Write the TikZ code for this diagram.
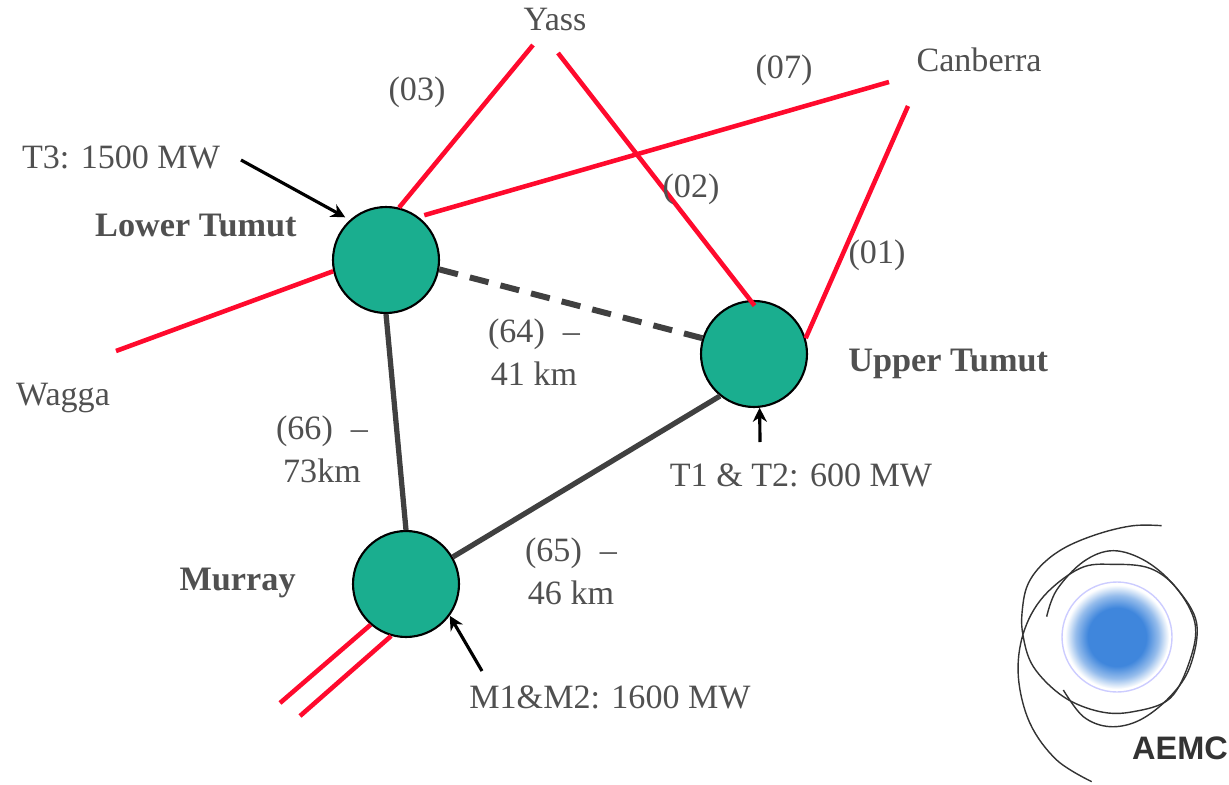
\documentclass[tikz,border=0pt]{standalone}
\usepackage{fontspec}
\setmainfont{Liberation Serif}
\setsansfont{Liberation Sans}
\usepackage{xcolor}
\usetikzlibrary{arrows.meta,positioning}

\definecolor{stationgreen}{HTML}{1AAE8F}
\definecolor{linered}{HTML}{FF0A2D}
\definecolor{linegrey}{HTML}{404040}
\definecolor{textgrey}{HTML}{505050}
\definecolor{logoblue}{HTML}{3F86DC}
\pgfdeclareradialshading{logoblob}{\pgfpoint{0bp}{0bp}}{color(0bp)=(logoblue); color(14bp)=(logoblue); color(20bp)=(logoblue!55!white); color(25bp)=(white); color(50bp)=(white)}

\begin{document}
\begin{tikzpicture}[
    x=0.02cm, y=-0.02cm,
    station/.style={draw=black, line width=1.2pt, circle, fill=stationgreen, minimum size=2.12cm, inner sep=0pt},
    lbl/.style={text=textgrey, inner sep=0pt, align=center, font=\fontsize{19.4}{24.6}\selectfont},
    stationlbl/.style={lbl, font=\fontsize{19.5}{24}\selectfont\bfseries},
    feeder/.style={draw=linered, line width=2.6pt},
    tie/.style={draw=linegrey, line width=3pt},
    pointer/.style={draw=black, line width=1.8pt, -{Stealth[length=8pt,width=8pt]}},
    logoline/.style={draw=black!80, line width=0.8pt}
]
    \useasboundingbox (0,0) rectangle (1229,784);

    % Stations
    \node[station] (lower) at (386,260) {};
    \node[station] (upper) at (754,354) {};
    \node[station] (murray) at (406,584) {};

    % Free line ends
    \coordinate (yassa) at (533,45);
    \coordinate (yassb) at (558,53);
    \coordinate (canberraa) at (889,82);
    \coordinate (canberrab) at (908,106);
    \coordinate (waggaend) at (116,351);
    \coordinate (southa) at (280,703);
    \coordinate (southb) at (300,716);
    \coordinate (t3start) at (241,160);
    \coordinate (t1start) at (760,442);
    \coordinate (m1start) at (482,671);

    % Red lines
    \draw[feeder] (lower.76) -- (yassa);
    \draw[feeder, shorten <=3.4pt] (lower.53) -- (canberraa);
    \draw[feeder] (lower.192) -- (waggaend);
    \draw[feeder, shorten <=-4pt] (upper.94) -- (yassb);
    \draw[feeder] (upper.17) -- (canberrab);
    \draw[feeder] (murray.229) -- (southa);
    \draw[feeder] (murray.254) -- (southb);

    % Lines between stations
    \draw[tie, dash pattern=on 11pt off 7pt, line width=3.4pt] (lower.-10) -- (upper.163);
    \draw[tie] (lower.270) -- (murray.90);
    \draw[tie] (murray.30) -- (upper.231);

    % Unit arrows
    \draw[pointer, shorten >=3pt] (t3start) -- (lower.132);
    \draw[pointer] (t1start) -- (upper.-84);
    \draw[pointer] (m1start) -- (murray.-36);

    % Station labels
    \node[stationlbl, left=0.7cm of lower, yshift=0.7cm] (lowerlbl) {Lower Tumut};
    \node[stationlbl, right=0.8cm of upper, yshift=-0.2cm] (upperlbl) {Upper Tumut};
    \node[stationlbl, left=1.12cm of murray, yshift=0.02cm] (murraylbl) {Murray};

    % Place names
    \node[lbl] (yass) at (555,20) {Yass};
    \node[lbl] (canberra) at (979,60) {Canberra};
    \node[lbl] (wagga) at (63,398) {Wagga};

    % Line numbers
    \node[lbl] (l03) at (417,92) {(03)};
    \node[lbl] (l07) at (784,70) {(07)};
    \node[lbl] (l02) at (691,189) {(02)};
    \node[lbl] (l01) at (877,255) {(01)};
    \node[lbl] (l64) at (534,352) {(64)\; –\\41 km};
    \node[lbl] (l66) at (322,449) {(66)\; –\\73km};
    \node[lbl] (l65) at (571,571) {(65)\; –\\46 km};

    % Unit ratings
    \node[lbl] (t3) at (121,157) {T3: 1500 MW};
    \node[lbl] (t1t2) at (801,475) {T1 \& T2: 600 MW};
    \node[lbl] (m1m2) at (610,697) {M1\&M2: 1600 MW};

    % Logo
    \draw[draw=blue!20!white, line width=0.8pt] (1117,637) circle (55);
    \shade[shading=logoblob] (1117,637) circle (52);
    \begin{scope}[shift={(1000,510)}, x=0.02cm/3, y=-0.02cm/3]
        \draw[logoline] plot[smooth, tension=0.6] coordinates {(485,47) (400,47) (300,70) (200,110) (130,160) (85,220) (68,290) (68,370) (100,470) (190,560) (300,605) (400,605) (510,565) (570,450) (585,340) (530,235) (450,175) (340,163) (240,175) (130,260) (70,370) (55,500) (90,640) (170,750) (275,815)};
        \draw[logoline] plot[smooth, tension=0.6] coordinates {(140,320) (170,240) (250,155) (340,122) (440,155) (530,235) (590,340) (570,470) (510,560) (420,630) (330,650) (250,620) (190,540)};
    \end{scope}
    \node[text=black!80, inner sep=0pt, font=\fontsize{18.5}{20}\selectfont\sffamily\bfseries] (aemc) at (1180,748) {AEMC};
\end{tikzpicture}
\end{document}
